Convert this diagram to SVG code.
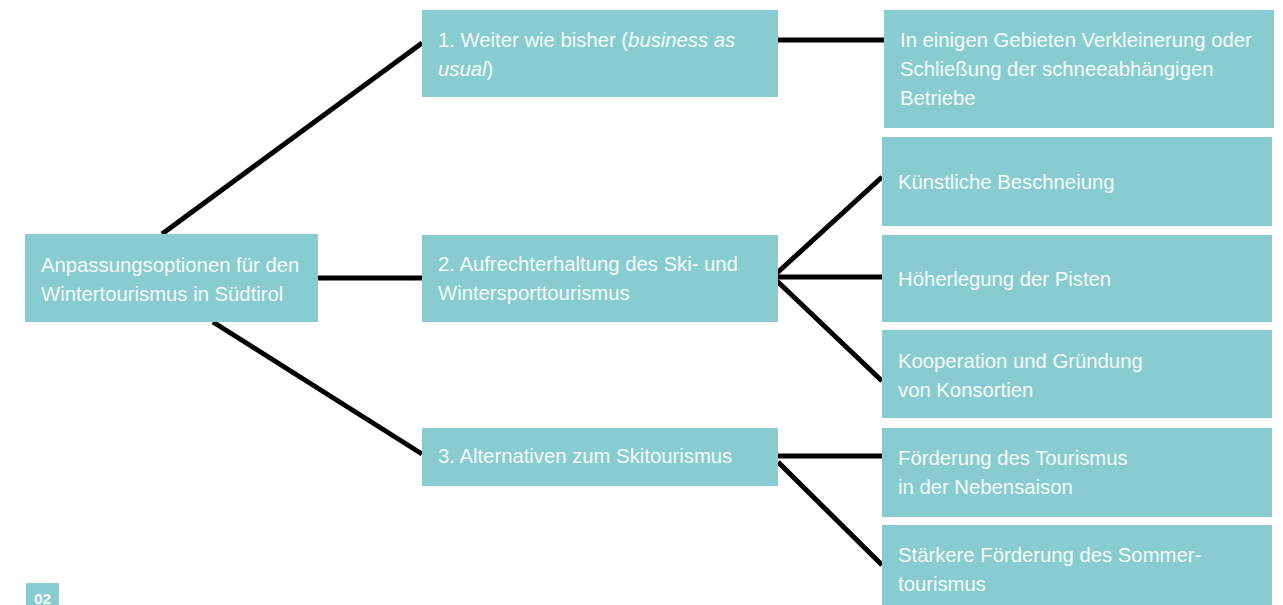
<svg xmlns="http://www.w3.org/2000/svg" width="1283" height="605" viewBox="0 0 1283 605">
<style>
.box{fill:#88cccf}
.t{font-family:"Liberation Sans",Arial,sans-serif;font-size:20.3px;fill:#f4fbfb}
.c{stroke:#000;stroke-width:5;fill:none}
</style>
<rect width="1283" height="605" fill="#fff"/>
<g id="connectors">
<line class="c" x1="162" y1="234" x2="422" y2="43"/>
<line class="c" x1="318" y1="278" x2="422" y2="278"/>
<line class="c" x1="213" y1="322" x2="422" y2="454"/>
<line class="c" x1="778" y1="40" x2="884" y2="40"/>
<line class="c" x1="777" y1="273" x2="882" y2="177"/>
<line class="c" x1="777" y1="277" x2="882" y2="277"/>
<line class="c" x1="777" y1="281" x2="882" y2="381"/>
<line class="c" x1="778" y1="456" x2="882" y2="456"/>
<line class="c" x1="778" y1="462" x2="882" y2="565"/>
</g>
<g id="root"><rect class="box" x="25" y="234" width="293" height="88"/>
<text class="t" x="41" y="272">Anpassungsoptionen für den</text>
<text class="t" x="41" y="301">Wintertourismus in Südtirol</text></g>
<g id="n1"><rect class="box" x="422" y="10" width="356" height="87"/>
<text class="t" x="438" y="47">1. Weiter wie bisher (<tspan font-style="italic">business as</tspan></text>
<text class="t" x="438" y="76"><tspan font-style="italic">usual</tspan>)</text></g>
<g id="n2"><rect class="box" x="422" y="235" width="356" height="87"/>
<text class="t" x="438" y="271">2. Aufrechterhaltung des Ski- und</text>
<text class="t" x="438" y="300">Wintersporttourismus</text></g>
<g id="n3"><rect class="box" x="422" y="428" width="356" height="58"/>
<text class="t" x="438" y="463">3. Alternativen zum Skitourismus</text></g>
<g id="r1"><rect class="box" x="884" y="10" width="390" height="118"/>
<text class="t" x="900" y="47">In einigen Gebieten Verkleinerung oder</text>
<text class="t" x="900" y="76">Schließung der schneeabhängigen</text>
<text class="t" x="900" y="105">Betriebe</text></g>
<g id="r2"><rect class="box" x="882" y="137" width="390" height="89"/>
<text class="t" x="898" y="189">Künstliche Beschneiung</text></g>
<g id="r3"><rect class="box" x="882" y="235" width="390" height="87"/>
<text class="t" x="898" y="286">Höherlegung der Pisten</text></g>
<g id="r4"><rect class="box" x="882" y="330" width="390" height="88"/>
<text class="t" x="898" y="368">Kooperation und Gründung</text>
<text class="t" x="898" y="397">von Konsortien</text></g>
<g id="r5"><rect class="box" x="882" y="428" width="390" height="89"/>
<text class="t" x="898" y="465">Förderung des Tourismus</text>
<text class="t" x="898" y="494">in der Nebensaison</text></g>
<g id="r6"><rect class="box" x="882" y="525" width="390" height="80"/>
<text class="t" x="898" y="562">Stärkere Förderung des Sommer-</text>
<text class="t" x="898" y="591">tourismus</text></g>
<g id="tag"><rect class="box" x="26" y="583" width="33" height="22"/>
<text x="42.5" y="603.5" text-anchor="middle" font-family="Liberation Sans,Arial,sans-serif" font-size="15.5" font-weight="bold" fill="#f4fbfb">02</text></g>
</svg>
